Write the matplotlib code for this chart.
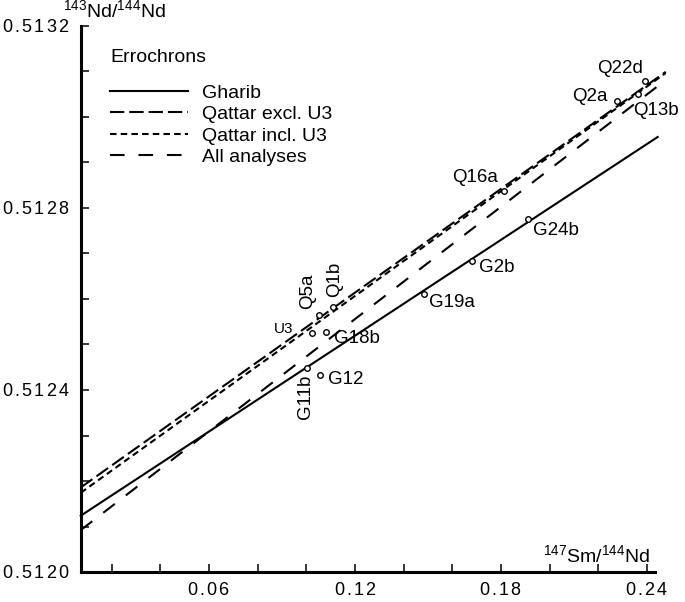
import matplotlib
matplotlib.use("Agg")
import matplotlib.pyplot as plt
from matplotlib.lines import Line2D
from matplotlib.ticker import MultipleLocator, FuncFormatter

# ------------------------------------------------
# Data
# ------------------------------------------------
sample_names = ["Q22d", "Q2a", "Q13b", "Q16a", "G24b", "G2b", "G19a",
                "Q5a", "Q1b", "U3", "G18b", "G11b", "G12"]
sm_nd = [0.2391, 0.2276, 0.2362, 0.1812, 0.1910, 0.1680, 0.1483,
         0.1052, 0.1109, 0.1023, 0.1080, 0.1002, 0.1056]
nd_nd = [0.513079, 0.513035, 0.513051, 0.512837, 0.512776, 0.512684, 0.512611,
         0.512565, 0.512582, 0.512525, 0.512527, 0.512448, 0.512433]

errochron_names = ["Gharib", "Qattar excl. U3", "Qattar incl. U3", "All analyses"]
errochron_slopes = [0.003511, 0.003800, 0.003838, 0.004115]
errochron_intercepts = [0.512098, 0.512158, 0.512146, 0.512062]
errochron_x_end = [0.2444, 0.2477, 0.2477, 0.2456]

x_limits = (0.0073, 0.2433)
y_limits = (0.5120, 0.5132)

# ------------------------------------------------
# Styles
# ------------------------------------------------
plt.rcParams["font.family"] = ["Liberation Sans", "DejaVu Sans"]
plt.rcParams["mathtext.fontset"] = "custom"
plt.rcParams["mathtext.rm"] = "Liberation Sans"
plt.rcParams["mathtext.it"] = "Liberation Sans:italic"
plt.rcParams["lines.scale_dashes"] = False

line_styles = [
    dict(linestyle="-"),
    dict(linestyle=(0, (10.3, 3.6))),
    dict(linestyle=(0, (4.7, 3.0))),
    dict(linestyle=(0, (10.5, 10.0))),
]

# label offsets in points: (dx, dy, ha, va, rotation, fontsize)
label_style = {
    "Q22d": (-1, 3, "right", "bottom", 0, 13.5),
    "Q2a": (-6.5, 3.5, "right", "center", 0, 13.5),
    "Q13b": (-3, -6, "left", "top", 0, 13.5),
    "Q16a": (-4, 4, "right", "bottom", 0, 13.5),
    "G24b": (4, -8, "left", "center", 0, 13.5),
    "G2b": (5, -4.5, "left", "center", 0, 13.5),
    "G19a": (4, -6, "left", "center", 0, 13.5),
    "Q5a": (-8, 4, "center", "bottom", 90, 13.5),
    "Q1b": (1, 7, "center", "bottom", 90, 13.5),
    "U3": (-13, 3, "right", "center", 0, 11),
    "G18b": (6, -4.5, "left", "center", 0, 13.5),
    "G11b": (-1, -5, "center", "top", 90, 13.5),
    "G12": (6, -3.5, "left", "center", 0, 13.5),
}


def spaced(text, gap=0.15):
    # tick labels in the original are letter-spaced; mathtext puts 0.2 of
    # extra space after a lone "." so that is taken back out again
    parts = []
    for i, c in enumerate(text):
        parts.append(r"\mathrm{%s}" % c)
        if i < len(text) - 1:
            extra = gap - 0.2 if c == "." else gap
            parts.append(r"\hspace{%.3f}" % extra)
    return "$" + "".join(parts) + "$"


fig = plt.figure(figsize=(6.85, 6.02), dpi=100)
ax = fig.add_axes([80.7 / 685, 30 / 602, (655 - 80.7) / 685, (572 - 26) / 602])

# ------------------------------------------------
# Errochrons
# ------------------------------------------------
handles = []
for name, slope, icpt, x_end, style in zip(errochron_names, errochron_slopes,
                                           errochron_intercepts, errochron_x_end,
                                           line_styles):
    xs = [x_limits[0], x_end]
    ys = [icpt + slope * x for x in xs]
    ax.plot(xs, ys, color="black", linewidth=1.5, clip_on=False, zorder=2, **style)
    handles.append(Line2D([], [], color="black", linewidth=1.5, **style))

# ------------------------------------------------
# Samples
# ------------------------------------------------
ax.plot(sm_nd, nd_nd, linestyle="none", marker="o", markersize=4,
        markerfacecolor="white", markeredgecolor="black", markeredgewidth=1.0,
        zorder=3, clip_on=False)

for name, x, y in zip(sample_names, sm_nd, nd_nd):
    dx, dy, ha, va, rot, fs = label_style[name]
    ax.annotate(name, (x, y), xytext=(dx, dy), textcoords="offset points",
                ha=ha, va=va, rotation=rot, fontsize=fs)

# ------------------------------------------------
# Axes
# ------------------------------------------------
ax.set_xlim(*x_limits)
ax.set_ylim(*y_limits)
ax.spines["top"].set_visible(False)
ax.spines["right"].set_visible(False)
ax.spines["left"].set_linewidth(2.2)
ax.spines["bottom"].set_linewidth(2.2)

ax.xaxis.set_major_locator(MultipleLocator(0.06))
ax.xaxis.set_minor_locator(MultipleLocator(0.02))
ax.yaxis.set_major_locator(MultipleLocator(0.0004))
ax.yaxis.set_minor_locator(MultipleLocator(0.0001))
ax.xaxis.set_major_formatter(FuncFormatter(lambda v, pos: spaced(f"{v:.2f}")))
ax.yaxis.set_major_formatter(FuncFormatter(lambda v, pos: spaced(f"{v:.4f}")))
ax.tick_params(which="both", direction="in", length=6, width=1.1)
ax.tick_params(axis="x", which="major", pad=7, labelsize=13)
ax.tick_params(axis="y", which="major", pad=8, labelsize=13)

fig.text(63 / 685, 1 - 17 / 602, r"$^{\mathrm{143}}$Nd/$^{\mathrm{144}}$Nd",
         fontsize=14, ha="left", va="baseline")
fig.text(650 / 685, 1 - 562 / 602, r"$^{\mathrm{147}}$Sm/$^{\mathrm{144}}$Nd",
         fontsize=14, ha="right", va="baseline")

# ------------------------------------------------
# Legend
# ------------------------------------------------
fig.text(110 / 685, 1 - 58 / 602, "Errochrons", fontsize=14, ha="left", va="center")
ax.legend(handles, errochron_names, loc="upper left",
          bbox_to_anchor=(110 / 685, 1 - 84 / 602), bbox_transform=fig.transFigure,
          frameon=False, fontsize=14, handlelength=4.0, handletextpad=0.72,
          labelspacing=0.2, borderpad=0, borderaxespad=0)

fig.savefig("out.png", dpi=100)
